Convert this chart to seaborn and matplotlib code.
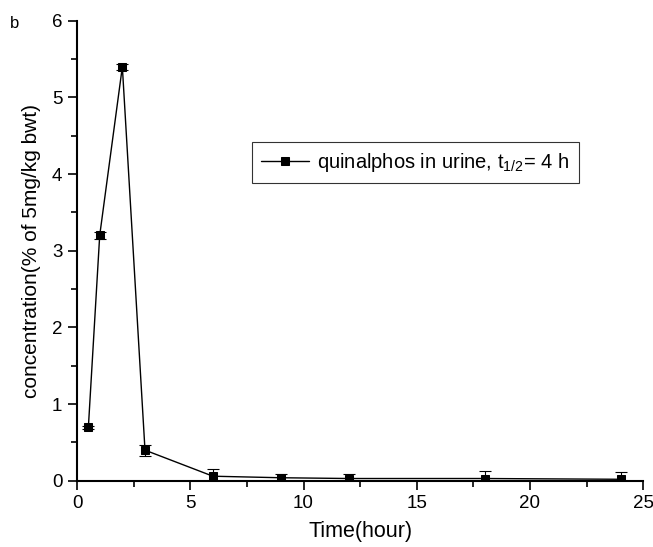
import matplotlib
matplotlib.use("Agg")
import matplotlib.pyplot as plt
import seaborn as sns
import pandas as pd
from matplotlib.ticker import MultipleLocator

time_h = [0.5, 1, 2, 3, 6, 9, 12, 18, 24]
conc = [0.70, 3.20, 5.40, 0.40, 0.06, 0.04, 0.03, 0.03, 0.02]
err = [0.02, 0.05, 0.04, 0.07, 0.09, 0.05, 0.06, 0.10, 0.09]
series_label = r"quinalphos in urine, t$_{1/2}$= 4 h"

sns.set_style("ticks")
plt.rcParams['font.family'] = ['Liberation Sans', 'DejaVu Sans']
plt.rcParams['mathtext.fontset'] = 'custom'
plt.rcParams['mathtext.rm'] = 'Liberation Sans'
plt.rcParams['mathtext.it'] = 'Liberation Sans'
plt.rcParams['text.color'] = 'black'
plt.rcParams['axes.labelcolor'] = 'black'
plt.rcParams['xtick.color'] = 'black'
plt.rcParams['ytick.color'] = 'black'

df = pd.DataFrame({"t": time_h, "c": conc})

fig = plt.figure(figsize=(6.53, 5.47), dpi=100)
ax = fig.add_axes([0.118, 0.121, 0.867, 0.841])

ax.errorbar(time_h, conc, yerr=err, fmt='none', ecolor='black', elinewidth=0.8,
            capsize=4, capthick=0.8, zorder=2)
sns.lineplot(data=df, x="t", y="c", ax=ax, color='black', linewidth=1.0,
             marker='s', markersize=6, markeredgecolor='black', label=series_label, zorder=3)

ax.set_xlim(0, 25)
ax.set_ylim(0, 6)
ax.xaxis.set_major_locator(MultipleLocator(5))
ax.xaxis.set_minor_locator(MultipleLocator(2.5))
ax.yaxis.set_major_locator(MultipleLocator(1))
ax.yaxis.set_minor_locator(MultipleLocator(0.5))
ax.tick_params(which='major', direction='out', length=6.5, width=1.2, labelsize=13.5, pad=4)
ax.tick_params(which='minor', direction='out', length=4, width=1.2)
for s in ['top', 'right']:
    ax.spines[s].set_visible(False)
for s in ['left', 'bottom']:
    ax.spines[s].set_linewidth(1.5)
    ax.spines[s].set_color('black')

ax.set_xlabel("Time(hour)", fontsize=15.5, labelpad=6)
ax.set_ylabel("concentration(% of 5mg/kg bwt)", fontsize=15, labelpad=8)

leg = ax.legend(loc='upper left', bbox_to_anchor=(252/653, 1 - 142/547),
                bbox_transform=fig.transFigure, fontsize=14.5, frameon=True,
                fancybox=False, edgecolor='black', handlelength=2.4,
                borderpad=0.45, handletextpad=0.4, borderaxespad=0)
leg.get_frame().set_linewidth(0.8)

fig.text(10/653, 1 - 28/547, "b", fontsize=12)

fig.savefig("out.png", dpi=100)
